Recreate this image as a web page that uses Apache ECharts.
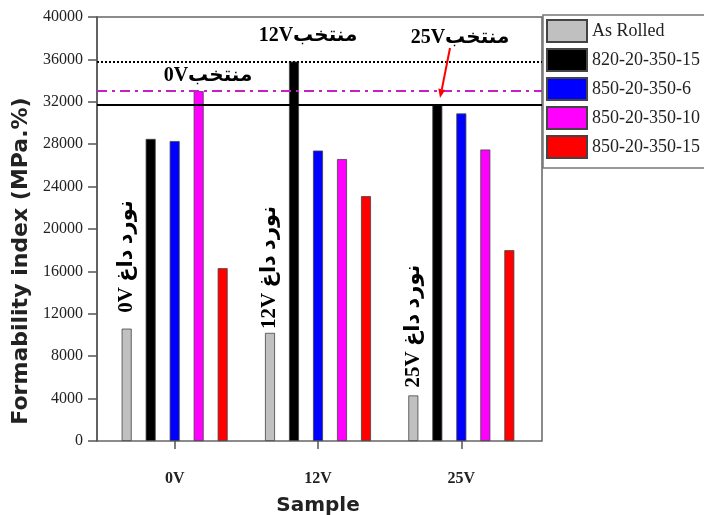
<!doctype html>
<html lang="en">
<head>
<meta charset="UTF-8">
<title>Formability index</title>
<script src="https://cdn.jsdelivr.net/npm/echarts@6/dist/echarts.min.js"></script>
<style>html,body{margin:0;padding:0;background:#fff;}</style>
</head>
<body>
<div id="main" style="width:704px;height:515px;"></div>
<script>
// data
var samples = ['0V', '12V', '25V'];
var seriesNames = ['As Rolled', '820-20-350-15', '850-20-350-6', '850-20-350-10', '850-20-350-15'];
var asRolled = [10600, 10200, 4300];
var s820_15 = [28500, 35800, 31700];
var s850_6 = [28300, 27400, 30900];
var s850_10 = [33000, 26600, 27500];
var s850_15 = [16300, 23100, 18000];
var hotLabels = ['0V نورد داغ', '12V نورد داغ', '25V نورد داغ'];
var refLines = [35800, 33000, 31700];   // dotted, dash-dot, solid
var yMin = 0, yMax = 40000, yStep = 4000;

var colors = ['#c0c0c0', '#000000', '#0000ff', '#ff00ff', '#ff0000'];
var values = [asRolled, s820_15, s850_6, s850_10, s850_15];
var serif = '"Liberation Serif", "DejaVu Serif", "DejaVu Sans", serif';

var myChart = echarts.init(document.getElementById('main'));

var series = values.map(function (v, i) {
    var s = {
        name: seriesNames[i],
        type: 'bar',
        xAxisIndex: 1,
        yAxisIndex: 1,
        barWidth: 10,
        barGap: '140%',
        itemStyle: {color: colors[i], borderColor: '#444', borderWidth: 0.8},
        data: v
    };
    if (i === 0) {
        s.data = v.map(function (val, k) {
            return {value: val, label: {distance: [16, 4, 8][k]}};
        });
        s.label = {
            show: true, position: 'top', rotate: 90, align: 'left', verticalAlign: 'middle',
            formatter: function (p) { return hotLabels[p.dataIndex]; },
            fontFamily: serif, fontWeight: 'bold', fontSize: 21, color: '#000'
        };
    }
    return s;
});

// horizontal reference lines across the whole frame
series.push({
    type: 'line', xAxisIndex: 0, yAxisIndex: 0, data: [], silent: true,
    markLine: {
        symbol: ['none', 'none'], silent: true, label: {show: false},
        data: [
            {yAxis: refLines[0], lineStyle: {type: [2, 2], color: '#000', width: 2}},
            {yAxis: refLines[1], lineStyle: {type: [10, 5, 3, 5], color: '#c81ec8', width: 2}},
            {yAxis: refLines[2], lineStyle: {type: 'solid', color: '#000', width: 2}}
        ]
    }
});

var annotFont = 'bold 20px ' + serif;

var option = {
    animation: false,
    backgroundColor: '#fff',
    grid: [
        {left: 97, right: 162, top: 17, bottom: 74, show: true, borderColor: '#666', borderWidth: 1.5, outerBoundsMode: 'none'},
        {left: 103, right: 171, top: 17, bottom: 74, outerBoundsMode: 'none'}
    ],
    legend: {
        data: seriesNames,
        orient: 'vertical',
        left: 543, top: 15,
        icon: 'rect',
        itemWidth: 40, itemHeight: 22, itemGap: 5,
        padding: [4, 12, 9, 3],
        borderColor: '#777', borderWidth: 1.5, backgroundColor: '#fff',
        textStyle: {fontFamily: serif, fontSize: 18, color: '#222'}
    },
    xAxis: [
        {gridIndex: 0, type: 'category', data: samples, show: false},
        {
            gridIndex: 1, type: 'category', data: samples,
            axisLine: {show: false},
            axisTick: {show: true, alignWithLabel: true, length: 8, lineStyle: {color: '#555', width: 1.5}},
            axisLabel: {margin: 30, fontFamily: serif, fontWeight: 'bold', fontSize: 16, color: '#222'},
            name: 'Sample', nameLocation: 'middle', nameGap: 55,
            nameTextStyle: {fontFamily: '"DejaVu Sans", sans-serif', fontWeight: 'bold', fontSize: 20, color: '#222'}
        }
    ],
    yAxis: [
        {
            gridIndex: 0, type: 'value', min: yMin, max: yMax, interval: yStep,
            axisLine: {show: true, lineStyle: {color: '#555', width: 1.5}},
            axisTick: {show: true, length: 9, lineStyle: {color: '#555', width: 1.5}},
            axisLabel: {margin: 14, fontFamily: serif, fontSize: 16, color: '#222', formatter: function (v) { return String(v); }},
            splitLine: {show: false},
            name: 'Formability index (MPa.%)', nameLocation: 'middle', nameGap: 57,
            nameTextStyle: {fontFamily: '"DejaVu Sans", sans-serif', fontWeight: 'bold', fontSize: 22, color: '#222', padding: [0, 64, 0, 0]}
        },
        {gridIndex: 1, type: 'value', min: yMin, max: yMax, interval: yStep, show: false, splitLine: {show: false}}
    ],
    graphic: [
        {type: 'text', x: 308, y: 36, z: 100, style: {text: '12Vمنتخب', font: annotFont, fill: '#000', align: 'center', verticalAlign: 'middle'}},
        {type: 'text', x: 460, y: 38, z: 100, style: {text: '25Vمنتخب', font: annotFont, fill: '#000', align: 'center', verticalAlign: 'middle'}},
        {type: 'text', x: 208, y: 76, z: 100, style: {text: '0Vمنتخب', font: annotFont, fill: '#000', align: 'center', verticalAlign: 'middle'}},
        {type: 'line', z: 100, shape: {x1: 450, y1: 48, x2: 441.8, y2: 89.5}, style: {stroke: '#ff0000', lineWidth: 2}},
        {type: 'polygon', z: 100, shape: {points: [[440, 98], [445.2, 89.9], [438.3, 88.5]]}, style: {fill: '#ff0000'}}
    ],
    series: series
};

myChart.setOption(option);
</script>
</body>
</html>
